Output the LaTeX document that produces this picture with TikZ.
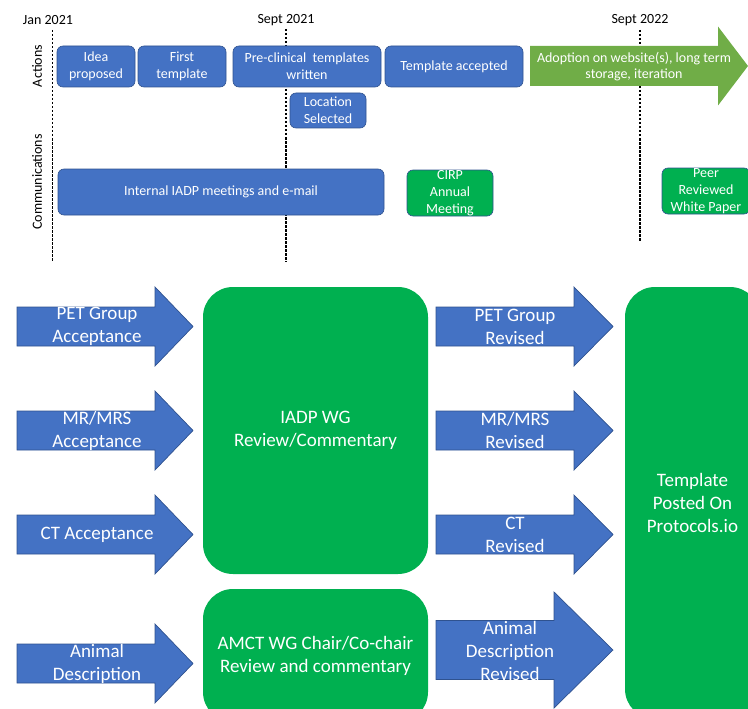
\documentclass[tikz,border=0pt]{standalone}
\usepackage{fontspec}
\setmainfont{Carlito}
\usepackage{xcolor}
\definecolor{officeblue}{RGB}{68,114,196}
\definecolor{blueline}{RGB}{47,82,143}
\definecolor{officegreen}{RGB}{0,176,80}
\definecolor{leafgreen}{RGB}{112,173,71}
\usepackage{tikz}
\newcommand{\blockarrow}[7]{\path[#1] (#2,#5-#6)--(#3,#5-#6)--(#3,#5-#7)--(#4,#5)--(#3,#5+#7)--(#3,#5+#6)--(#2,#5+#6)--cycle;}

\begin{document}
\begin{tikzpicture}[x=1pt,y=-1pt,
act/.style={draw=blueline,line width=0.6pt,fill=officeblue,rounded corners=6pt,text=white,align=center,inner sep=0pt,font=\fontsize{14}{16.8}\selectfont},
comm/.style={act,fill=officegreen},
big/.style={fill=officegreen,rounded corners=30pt,text=white,align=center,font=\fontsize{19}{23}\selectfont},
arrtxt/.style={text=white,align=center,inner sep=0pt,font=\fontsize{19}{23}\selectfont},
date/.style={font=\fontsize{14}{16}\selectfont,inner sep=0pt},
timeline/.style={dash pattern=on 2.5pt off 1.5pt,line width=1.4pt},
barrow/.style={fill=officeblue,draw=blueline,line width=0.7pt},
garrow/.style={fill=leafgreen}]
\useasboundingbox (0,0) rectangle (748,709);
\clip (0,0) rectangle (748,709);
\node[date] (jan) at (48,20) {Jan 2021};
\node[date] (sep1) at (286,20) {Sept 2021};
\node[date] (sep2) at (640,20) {Sept 2022};
\node[date,rotate=90] (actions) at (37,66) {Actions};
\node[date,rotate=90] (comms) at (37,182) {Communications};
\draw[timeline] (52.5,30)--(52.5,262);
\draw[timeline] (286,29)--(286,262);
\draw[timeline] (640,30)--(640,241);
\node[act,minimum width=78,minimum height=41] (idea) at (96,66.5) {Idea\\proposed};
\node[act,minimum width=88,minimum height=41] (first) at (182,66.5) {First\\template};
\node[act,minimum width=148,minimum height=41] (precl) at (307,66.5) {Pre-clinical~ templates\\written};
\node[act,minimum width=138,minimum height=41] (accept) at (454,66.5) {Template accepted};
\node[act,minimum width=76,minimum height=35] (loc) at (328,110.5) {Location\\Selected};
\node[act,minimum width=326,minimum height=46] (internal) at (221,192) {Internal IADP meetings and e-mail};
\node[comm,minimum width=86,minimum height=46] (cirp) at (450,193) {CIRP\\Annual\\Meeting};
\node[comm,minimum width=88,minimum height=46] (peer) at (706,191) {Peer\\Reviewed\\White Paper};
\blockarrow{garrow}{530}{718}{748}{66}{20}{39.5}
\node[arrtxt,font=\fontsize{14}{16.8}\selectfont] (adopt) at (634,66.5) {Adoption on website(s), long term\\storage, iteration};
\blockarrow{barrow}{17}{155}{193}{326.5}{19.5}{39.5}
\blockarrow{barrow}{17}{155}{193}{430.5}{19.5}{39.5}
\blockarrow{barrow}{17}{155}{193}{534.5}{19.5}{39.5}
\blockarrow{barrow}{17}{155}{193}{663.5}{19.5}{39.5}
\node[arrtxt] (petin) at (97,326.5) {PET Group\\Acceptance};
\node[arrtxt] (mrin) at (97,430.5) {MR/MRS\\Acceptance};
\node[arrtxt] (ctin) at (97,534.5) {CT Acceptance};
\node[arrtxt] (animin) at (97,663.5) {Animal\\Description};
\node[big,minimum width=225,minimum height=287] (iadp) at (315.5,430.5) {IADP WG\\Review/Commentary};
\node[big,minimum width=225,minimum height=133] (amct) at (315.5,655.5) {AMCT WG Chair/Co-chair\\Review and commentary};
\blockarrow{barrow}{436}{574}{613}{326.5}{19.5}{39.5}
\blockarrow{barrow}{436}{574}{613}{430.5}{19.5}{39.5}
\blockarrow{barrow}{436}{574}{613}{534.5}{19.5}{39.5}
\blockarrow{barrow}{436}{554}{613}{650}{29.5}{58}
\node[arrtxt] (petout) at (515,326.5) {PET Group\\Revised};
\node[arrtxt] (mrout) at (515,430.5) {MR/MRS\\Revised};
\node[arrtxt] (ctout) at (515,534.5) {CT\\Revised};
\node[arrtxt] (animout) at (510,651) {Animal\\Description\\Revised};
\node[big,minimum width=135,minimum height=432] (posted) at (692.5,503) {Template\\Posted On\\Protocols.io};
\end{tikzpicture}
\end{document}
